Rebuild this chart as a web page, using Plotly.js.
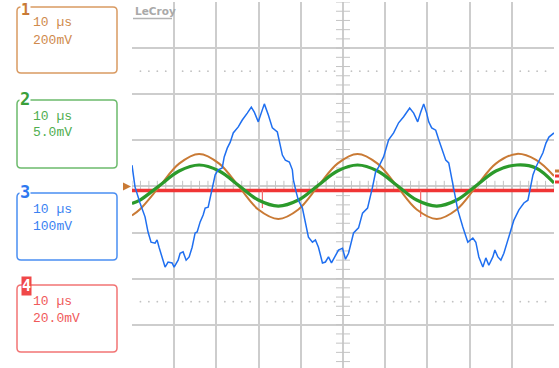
<!DOCTYPE html>
<html>
<head>
<meta charset="utf-8">
<script src="https://cdn.plot.ly/plotly-3.0.1.min.js"></script>
<style>html,body{margin:0;padding:0;background:#fff;}#chart{width:559px;height:368px;}</style>
</head>
<body>
<div id="chart"></div>
<script>
// ---- data (time in µs, voltage in mV) ----
const channelNames = ["1", "2", "3", "4"];
const timeDiv = "10 µs";
const voltDivLabels = ["200mV", "5.0mV", "100mV", "20.0mV"];
const voltPerDiv = [200, 5, 100, 20]; // mV / div

// Channel 1 (orange) and Channel 2 (green) sample times
const sineT = [0, 1.90, 6.53, 11.16, 15.91, 20.67, 25.30, 29.93, 34.68, 39.43, 44.06, 48.69, 53.44, 58.20, 62.83, 67.46, 72.21, 76.96, 81.59, 86.22, 91.21, 95.73, 100];
const ch1mV = [-126, -99, 0, 99, 141, 99, 0, -100, -141, -100, 0, 99, 141, 99, 0, -100, -141, -100, 0, 99, 141, 115, 45];
const ch2mV = [-1.85, -1.48, 0.10, 1.67, 2.32, 1.67, 0.10, -1.48, -2.13, -1.48, 0.10, 1.67, 2.32, 1.67, 0.10, -1.48, -2.13, -1.48, 0.10, 1.67, 2.32, 2.0, 0.37];

// Channel 3 (blue)
const ch3T = [0, 0.71, 1.90, 3.09, 3.80, 4.51, 5.46, 5.94, 6.41, 7.13, 7.84, 8.55, 9.50, 9.98, 10.93, 11.40, 12.11, 12.83, 13.54, 14.25, 14.96, 15.44, 16.15, 16.86, 17.34, 18.05, 18.53, 19.00, 19.71, 20.43, 21.38, 21.85, 22.57, 23.28, 23.99, 25.18, 26.13, 27.32, 28.27, 28.98, 29.93, 30.88, 31.36, 32.31, 33.26, 34.44, 34.92, 35.63, 36.34, 37.29, 38.00, 38.24, 38.95, 39.43, 40.38, 41.09, 41.81, 42.76, 43.47, 44.18, 45.13, 45.84, 46.56, 47.27, 47.98, 48.93, 49.88, 50.59, 51.31, 52.50, 53.68, 54.63, 55.82, 56.53, 57.01, 57.72, 58.43, 59.62, 60.81, 62.00, 63.18, 64.37, 65.80, 66.75, 67.70, 68.41, 69.12, 69.83, 70.31, 71.02, 71.97, 72.69, 73.64, 74.35, 75.06, 76.01, 76.72, 77.20, 78.39, 79.58, 80.77, 81.48, 82.19, 83.14, 83.85, 84.56, 85.51, 85.99, 86.70, 87.41, 88.12, 89.07, 89.79, 90.50, 91.69, 92.87, 93.82, 94.30, 95.01, 95.72, 96.43, 97.38, 98.09, 98.80, 100];
const ch3mV = [46, -1, -36, -66, -99, -121, -123, -116, -132, -153, -175, -164, -166, -175, -160, -145, -142, -160, -153, -132, -101, -99, -77, -62, -47, -45, -23, -1, 25, 36, 40, 64, 83, 96, 116, 129, 144, 159, 172, 161, 140, 166, 179, 155, 127, 118, 96, 68, 57, 53, 36, 14, -14, -30, -47, -79, -110, -121, -116, -132, -166, -164, -153, -166, -153, -138, -134, -158, -145, -101, -90, -58, -47, -23, -1, 31, 42, 64, 101, 116, 138, 151, 170, 159, 140, 161, 179, 159, 140, 127, 122, 101, 73, 57, 51, 7, -30, -51, -88, -121, -112, -121, -153, -175, -155, -171, -153, -138, -153, -160, -145, -116, -95, -73, -51, -36, -30, -4, 25, 42, 57, 73, 94, 107, 116];

// Channel 4 (red)
const ch4T = [0, 100];
const ch4mV = [-1.8, -1.8];
const ch4SpikeT = [30.9, 68.4];
const ch4SpikeMV = [-9.4, -13.3];

// ---- colours ----
const traceColors = ["#c97a35", "#2b9a2b", "#1f6ff0", "#f03535"];
const boxColors = ["#d99a62", "#6cbb6c", "#4a8ef2", "#f27474"];
const textColors = ["#cf8a4c", "#4fae4f", "#3a82f2", "#f05a5a"];
const labelColors = ["#c97a35", "#3a9f3a", "#2f78f0", "#ffffff"];

// ---- geometry helpers (pixel -> paper) ----
const W = 559, H = 368, ML = 132, MR = 5, MT = 2, MB = 0;
const PW = W - ML - MR, PH = H - MT - MB;
const X = p => (p - ML) / PW;
const Y = p => (H - MB - p) / PH;

function roundRect(x0, y0, x1, y1, r) {
  return `M ${X(x0 + r)},${Y(y0)} L ${X(x1 - r)},${Y(y0)} Q ${X(x1)},${Y(y0)} ${X(x1)},${Y(y0 + r)} ` +
         `L ${X(x1)},${Y(y1 - r)} Q ${X(x1)},${Y(y1)} ${X(x1 - r)},${Y(y1)} ` +
         `L ${X(x0 + r)},${Y(y1)} Q ${X(x0)},${Y(y1)} ${X(x0)},${Y(y1 - r)} ` +
         `L ${X(x0)},${Y(y0 + r)} Q ${X(x0)},${Y(y0)} ${X(x0 + r)},${Y(y0)} Z`;
}

const toDiv = (arr, s) => arr.map(v => v / s);

// ---- decorations: center-axis ticks and dotted lines ----
const tickX = [], tickY0 = [];
for (let t = 0; t <= 100.001; t += 2) { tickX.push(t); tickY0.push(0); }
const vtickY = [], vtickX = [];
for (let d = -4; d <= 4.001; d += 0.2) { vtickY.push(d); vtickX.push(50); }
const dotX = [], dotY = [];
for (let t = 2; t < 100; t += 2) {
  if (Math.abs(t / 10 - Math.round(t / 10)) < 1e-6) continue;
  dotX.push(t, t); dotY.push(2.5, -2.5);
}

const spikeX = [], spikeY = [];
ch4SpikeT.forEach((t, i) => { spikeX.push(t, t, null); spikeY.push(ch4mV[0] / voltPerDiv[3], ch4SpikeMV[i] / voltPerDiv[3], null); });

const traces = [
  {x: dotX, y: dotY, mode: "markers", marker: {symbol: "circle", size: 1.8, color: "#c2c2c2"}, hoverinfo: "skip"},
  {x: tickX, y: tickY0, mode: "markers", marker: {symbol: "line-ns", size: 8, line: {color: "#c4c4c4", width: 1}}, hoverinfo: "skip"},
  {x: vtickX, y: vtickY, mode: "markers", marker: {symbol: "line-ew", size: 10, line: {color: "#c4c4c4", width: 1}}, hoverinfo: "skip"},
  {x: ch4T, y: toDiv(ch4mV, voltPerDiv[3]), mode: "lines", line: {color: traceColors[3], width: 3.5}},
  {x: spikeX, y: spikeY, mode: "lines", line: {color: "#f46a6a", width: 1.2}},
  {x: sineT, y: toDiv(ch1mV, voltPerDiv[0]), mode: "lines", line: {color: traceColors[0], width: 2, shape: "spline"}},
  {x: sineT, y: toDiv(ch2mV, voltPerDiv[1]), mode: "lines", line: {color: traceColors[1], width: 3.2, shape: "spline"}},
  {x: ch3T, y: toDiv(ch3mV, voltPerDiv[2]), mode: "lines", line: {color: traceColors[2], width: 1.5}}
];

// ---- channel boxes ----
const boxTop = [7, 100, 193, 285];
const boxBottom = [73, 168, 260, 352];
const shapes = [];
const annotations = [];
boxTop.forEach((top, i) => {
  shapes.push({type: "path", xref: "paper", yref: "paper", path: roundRect(17, top, 117, boxBottom[i], 4),
    line: {color: boxColors[i], width: 1.5}, fillcolor: "rgba(0,0,0,0)"});
  annotations.push({xref: "paper", yref: "paper", x: X(31), y: Y(top + 16), xanchor: "left", yanchor: "middle",
    text: timeDiv, showarrow: false, font: {family: "Liberation Mono, DejaVu Sans Mono, monospace", size: 13, color: textColors[i]}});
  annotations.push({xref: "paper", yref: "paper", x: X(31), y: Y(top + 33), xanchor: "left", yanchor: "middle",
    text: voltDivLabels[i], showarrow: false, font: {family: "Liberation Mono, DejaVu Sans Mono, monospace", size: 13, color: textColors[i]}});
  if (i === 0) {
    annotations.push({xref: "paper", yref: "paper", x: X(25), y: Y(0), xanchor: "center", yanchor: "top",
      text: "<b>" + channelNames[i] + "</b>", showarrow: false, bgcolor: "#ffffff", borderpad: 0,
      font: {family: "DejaVu Sans Mono, monospace", size: 15, color: labelColors[i]}});
  } else if (i < 3) {
    annotations.push({xref: "paper", yref: "paper", x: X(25), y: Y(top - 1), xanchor: "center", yanchor: "middle",
      text: "<b>" + channelNames[i] + "</b>", showarrow: false, bgcolor: "#ffffff", borderpad: 0,
      font: {family: "DejaVu Sans Mono, monospace", size: 17, color: labelColors[i]}});
  } else {
    annotations.push({xref: "paper", yref: "paper", x: X(26), y: Y(top + 1), xanchor: "center", yanchor: "middle",
      text: "<b>" + channelNames[i] + "</b>", showarrow: false, bgcolor: "#f04848", borderpad: 0,
      font: {family: "DejaVu Sans Mono, monospace", size: 15, color: labelColors[i]}});
  }
});

// LeCroy logo
annotations.push({xref: "paper", yref: "paper", x: X(133), y: Y(11.5), xanchor: "left", yanchor: "middle",
  text: "<b>LeCroy</b>", showarrow: false, font: {family: "DejaVu Sans, sans-serif", size: 10.5, color: "#a9a9a9"}});
shapes.push({type: "line", xref: "paper", yref: "paper", x0: X(133), x1: X(172), y0: Y(18.5), y1: Y(18.5), line: {color: "#b3b3b3", width: 1.5}});

// left offset marker (channel 1)
shapes.push({type: "path", xref: "paper", yref: "paper",
  path: `M ${X(123)},${Y(182.5)} L ${X(131)},${Y(186.5)} L ${X(123)},${Y(190.5)} Z`,
  fillcolor: traceColors[0], line: {width: 0}});
// right edge small markers
[[171, traceColors[0]], [176, traceColors[3]], [182, traceColors[3]]].forEach(m => {
  shapes.push({type: "rect", xref: "paper", yref: "paper", x0: X(555), x1: X(559), y0: Y(m[0] - 1.5), y1: Y(m[0] + 1.5),
    fillcolor: m[1], line: {width: 0}});
});

const layout = {
  width: W, height: H,
  margin: {l: ML, r: MR, t: MT, b: MB, pad: 0},
  paper_bgcolor: "#ffffff", plot_bgcolor: "#ffffff",
  showlegend: false,
  xaxis: {range: [0, 100], tick0: 0, dtick: 10, showgrid: true, gridcolor: "#cdcdcd", gridwidth: 2,
          zeroline: false, showticklabels: false, ticks: "", showline: false, fixedrange: true},
  yaxis: {range: [-3.939, 4], tick0: 0, dtick: 1, showgrid: true, gridcolor: "#cdcdcd", gridwidth: 2,
          zeroline: false, showticklabels: false, ticks: "", showline: false, fixedrange: true},
  shapes: shapes,
  annotations: annotations
};

Plotly.newPlot("chart", traces, layout, {displayModeBar: false, staticPlot: true});
</script>
</body>
</html>
